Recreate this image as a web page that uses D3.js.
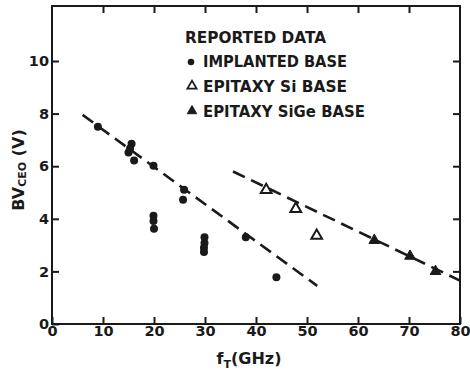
<!DOCTYPE html>
<html>
<head>
<meta charset="utf-8">
<script src="https://cdn.jsdelivr.net/npm/d3@7"></script>
<style>
  body { margin: 0; background: #fff; }
  text { font-family: "DejaVu Sans", sans-serif; font-weight: bold; fill: #1a1a1a; }
</style>
</head>
<body>
<div id="chart"></div>
<script>
// reported data
var implantedX = [9, 15.6, 15.3, 15, 16.1, 19.9, 25.9, 25.7, 19.9, 19.9, 20, 29.9, 29.9, 29.8, 29.8, 38, 44];
var implantedY = [7.5, 6.85, 6.67, 6.52, 6.22, 6.02, 5.1, 4.72, 4.12, 3.92, 3.62, 3.3, 3.08, 2.9, 2.74, 3.3, 1.78];
var siX = [42, 47.8, 51.9];
var siY = [5.1, 4.38, 3.36];
var sigeX = [63.2, 70.2, 75.2];
var sigeY = [3.18, 2.58, 2.0];
// dashed trend lines (end points)
var fitImplanted = [[6, 7.95], [52, 1.45]];
var fitEpi = [[35.5, 5.8], [80, 1.65]];

var xTicks = [0, 10, 20, 30, 40, 50, 60, 70, 80];
var yTicks = [0, 2, 4, 6, 8, 10];
var legendTitle = "REPORTED DATA";
var legendLabels = ["IMPLANTED BASE", "EPITAXY Si BASE", "EPITAXY SiGe BASE"];

var width = 470, height = 372;
var ink = "#1a1a1a";

var svg = d3.select("#chart").append("svg")
    .attr("width", width)
    .attr("height", height);

// scales
var x = d3.scaleLinear().domain([0, 80]).range([52, 460]);
var y = d3.scaleLinear().domain([0, 10]).range([324, 61]);
var yTop = y.invert(6);
y.domain([0, yTop]).range([324, 6]);

// frame
svg.append("rect")
    .attr("x", x(0)).attr("y", y(yTop))
    .attr("width", x(80) - x(0)).attr("height", y(0) - y(yTop))
    .attr("fill", "none").attr("stroke", ink).attr("stroke-width", 2);

// axes, ticks point inwards
var xAxis = svg.append("g")
    .attr("transform", "translate(0," + y(0) + ")")
    .call(d3.axisBottom(x).tickValues(xTicks).tickSizeInner(-7).tickSizeOuter(0).tickPadding(2).tickFormat(d3.format("d")));
var yAxis = svg.append("g")
    .attr("transform", "translate(" + x(0) + ",0)")
    .call(d3.axisLeft(y).tickValues(yTicks).tickSizeInner(-7).tickSizeOuter(0).tickPadding(3).tickFormat(d3.format("d")));
var topAxis = svg.append("g")
    .attr("transform", "translate(0," + y(yTop) + ")")
    .call(d3.axisTop(x).tickValues(xTicks.slice(1, -1)).tickSizeInner(-7).tickSizeOuter(0).tickFormat(""));
var rightAxis = svg.append("g")
    .attr("transform", "translate(" + x(80) + ",0)")
    .call(d3.axisRight(y).tickValues(yTicks.slice(1)).tickSizeInner(-7).tickSizeOuter(0).tickFormat(""));

[xAxis, yAxis, topAxis, rightAxis].forEach(function(a) {
  a.select(".domain").remove();
  a.selectAll("line").attr("stroke", ink).attr("stroke-width", 2);
  a.selectAll("text").attr("font-size", 14.5).attr("font-family", null).attr("fill", ink);
});

// dashed trend lines
var line = d3.line().x(function(d) { return x(d[0]); }).y(function(d) { return y(d[1]); });
[fitImplanted, fitEpi].forEach(function(pts) {
  svg.append("path")
      .attr("d", line(pts))
      .attr("fill", "none")
      .attr("stroke", ink)
      .attr("stroke-width", 2.6)
      .attr("stroke-dasharray", "13,7");
});

// markers
var tri = d3.symbol().type(d3.symbolTriangle).size(50);

svg.selectAll(".imp")
    .data(d3.zip(implantedX, implantedY))
  .enter().append("circle")
    .attr("class", "imp")
    .attr("cx", function(d) { return x(d[0]); })
    .attr("cy", function(d) { return y(d[1]); })
    .attr("r", 4)
    .attr("fill", ink);

svg.selectAll(".si")
    .data(d3.zip(siX, siY))
  .enter().append("path")
    .attr("class", "si")
    .attr("d", tri)
    .attr("transform", function(d) { return "translate(" + x(d[0]) + "," + y(d[1]) + ")"; })
    .attr("fill", "#fff").attr("stroke", ink).attr("stroke-width", 2);

svg.selectAll(".sige")
    .data(d3.zip(sigeX, sigeY))
  .enter().append("path")
    .attr("class", "sige")
    .attr("d", tri)
    .attr("transform", function(d) { return "translate(" + x(d[0]) + "," + y(d[1]) + ")"; })
    .attr("fill", ink).attr("stroke", ink).attr("stroke-width", 1);

// legend
var leg = svg.append("g");
leg.append("text")
    .attr("x", 185).attr("y", 43)
    .attr("font-size", 15)
    .attr("textLength", 141).attr("lengthAdjust", "spacingAndGlyphs")
    .text(legendTitle);

var rows = leg.selectAll(".row")
    .data(legendLabels)
  .enter().append("g")
    .attr("class", "row")
    .attr("transform", function(d, i) { return "translate(0," + (67 + i * 25) + ")"; });

rows.append("text")
    .attr("x", 203)
    .attr("font-size", 15)
    .attr("textLength", function(d, i) { return [144, 144, 162][i]; })
    .attr("lengthAdjust", "spacingAndGlyphs")
    .text(function(d) { return d; });

rows.each(function(d, i) {
  var g = d3.select(this);
  if (i == 0) {
    g.append("circle").attr("cx", 191).attr("cy", -5).attr("r", 3.3).attr("fill", ink);
  } else {
    g.append("path")
        .attr("d", d3.symbol().type(d3.symbolTriangle).size(38))
        .attr("transform", "translate(192,-6)")
        .attr("fill", i == 1 ? "#fff" : ink)
        .attr("stroke", ink).attr("stroke-width", i == 1 ? 1.7 : 1);
  }
});

// axis titles
var ylab = svg.append("text")
    .attr("transform", "translate(24,170) rotate(-90)")
    .attr("text-anchor", "middle")
    .attr("font-size", 16);
ylab.append("tspan").text("BV");
ylab.append("tspan").attr("font-size", 11).attr("dy", 2).text("CEO");
ylab.append("tspan").attr("dy", -2).text(" (V)");

var xlab = svg.append("text")
    .attr("x", 249).attr("y", 364)
    .attr("text-anchor", "middle")
    .attr("font-size", 16);
xlab.append("tspan").text("f");
xlab.append("tspan").attr("font-size", 11).attr("dy", 4).text("T");
xlab.append("tspan").attr("dy", -4).text("(GHz)");
</script>
</body>
</html>
